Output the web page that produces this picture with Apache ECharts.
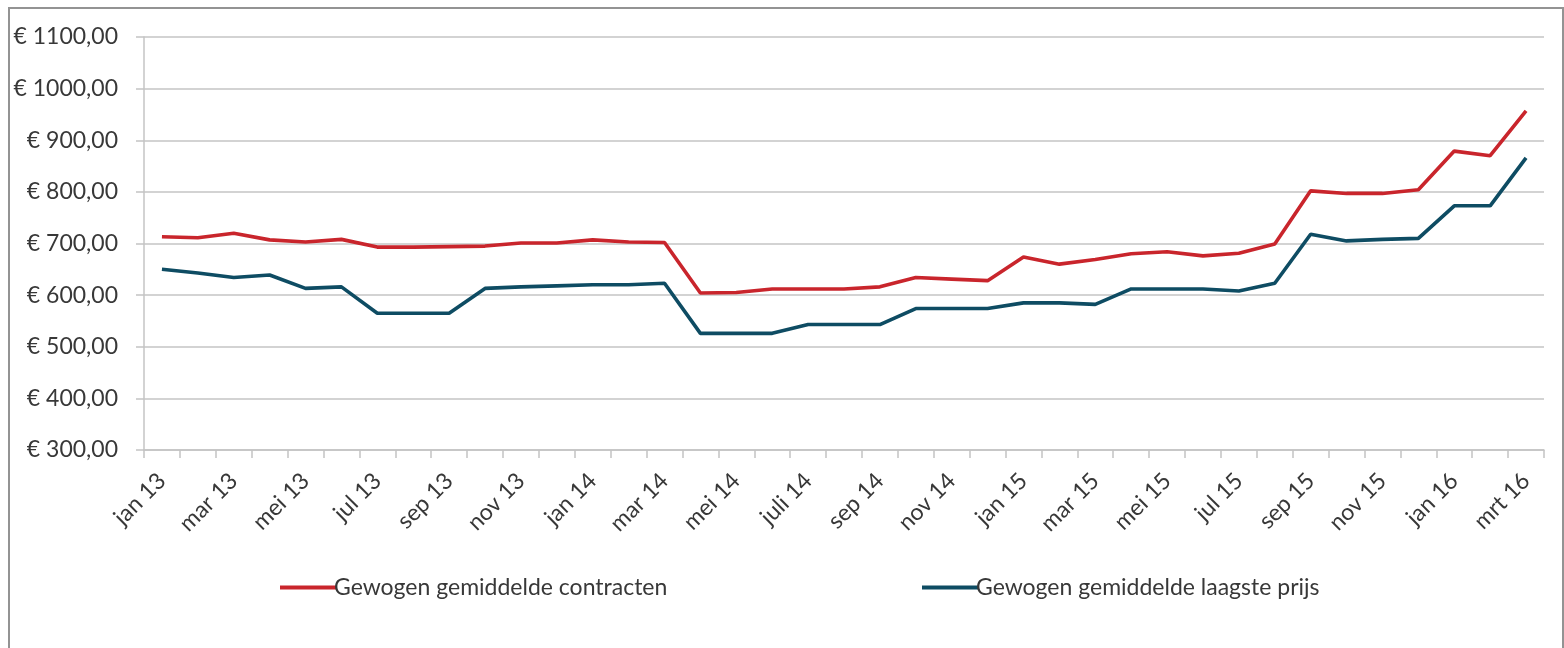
<!DOCTYPE html>
<html>
<head>
<meta charset="utf-8">
<script src="https://cdn.jsdelivr.net/npm/echarts@6/dist/echarts.min.js"></script>
<style>
  html, body { margin: 0; padding: 0; background: #fff; }
  #frame {
    position: absolute; left: 8px; top: 7px;
    width: 1552px; height: 640px;
    border: 2px solid #939393;
  }
  #graph { position: absolute; left: 0; top: 0; width: 1564px; height: 648px; }
</style>
</head>
<body>
<div id="frame"></div>
<div id="graph"></div>
<script>
// maanden jan 13 .. mrt 16
const months = [
  "jan 13", "feb 13", "mar 13", "apr 13", "mei 13", "jun 13", "jul 13", "aug 13",
  "sep 13", "okt 13", "nov 13", "dec 13",
  "jan 14", "feb 14", "mar 14", "apr 14", "mei 14", "jun 14", "juli 14", "aug 14",
  "sep 14", "okt 14", "nov 14", "dec 14",
  "jan 15", "feb 15", "mar 15", "apr 15", "mei 15", "jun 15", "jul 15", "aug 15",
  "sep 15", "okt 15", "nov 15", "dec 15",
  "jan 16", "feb 16", "mrt 16"
];

const contracten = [
  713, 711, 720, 707, 703, 708, 693, 693, 694, 695, 701, 701,
  707, 703, 702, 604, 605, 612, 612, 612, 616, 634, 631, 628,
  674, 660, 669, 680, 684, 676, 681, 699, 802, 797, 797, 804,
  879, 870, 957
];

const laagstePrijs = [
  650, 643, 634, 639, 613, 616, 565, 565, 565, 613, 616, 618,
  620, 620, 623, 526, 526, 526, 543, 543, 543, 574, 574, 574,
  585, 585, 582, 612, 612, 612, 608, 623, 718, 705, 708, 710,
  773, 773, 866
];

const seriesNames = ["Gewogen gemiddelde contracten", "Gewogen gemiddelde laagste prijs"];
const seriesColors = ["#c9252c", "#0e4c63"];

const FONT = "Lato";
const TEXT = "#383838";
const GRID = "#c4c4c4";

function createOptions() {
  const values = [contracten, laagstePrijs];
  const datasList = values.map((data, i) => ({
    name: seriesNames[i],
    type: "line",
    data: data,
    symbol: "none",
    smooth: false,
    lineStyle: { color: seriesColors[i], width: 3.6 },
    itemStyle: { color: seriesColors[i] },
    animation: false
  }));

  const legendBase = {
    top: 571,
    icon: "rect",
    itemWidth: 57,
    itemHeight: 4,
    textStyle: { fontFamily: FONT, fontSize: 23, color: TEXT, padding: [0, 0, 0, -8] }
  };

  return {
    textStyle: { fontFamily: FONT },
    legend: [
      Object.assign({ left: 275, data: [seriesNames[0]] }, legendBase),
      Object.assign({ left: 917, data: [seriesNames[1]] }, legendBase)
    ],
    grid: { left: 144, right: 20, top: 37, bottom: 198 },
    xAxis: {
      type: "category",
      data: months,
      boundaryGap: true,
      axisLine: { lineStyle: { color: GRID, width: 1.5 } },
      axisTick: { show: true, interval: 0, length: 8, lineStyle: { color: GRID, width: 1.5 } },
      axisLabel: {
        interval: 1,
        rotate: 45,
        margin: 27,
        padding: [30, 0, 0, 0],
        fontFamily: FONT,
        fontSize: 23,
        color: TEXT
      }
    },
    yAxis: {
      type: "value",
      min: 300,
      max: 1100,
      interval: 100,
      axisLine: { show: true, lineStyle: { color: GRID, width: 1.5 } },
      axisTick: { show: true, length: 8, lineStyle: { color: GRID, width: 1.5 } },
      splitLine: { lineStyle: { color: GRID, width: 1.5 } },
      axisLabel: {
        margin: 26,
        fontFamily: FONT,
        fontSize: 23,
        color: TEXT,
        formatter: (v) => "€ " + v + ",00"
      }
    },
    series: datasList
  };
}

const container = document.getElementById("graph");
const myChart = echarts.init(container);
myChart.setOption(createOptions());
</script>
</body>
</html>
